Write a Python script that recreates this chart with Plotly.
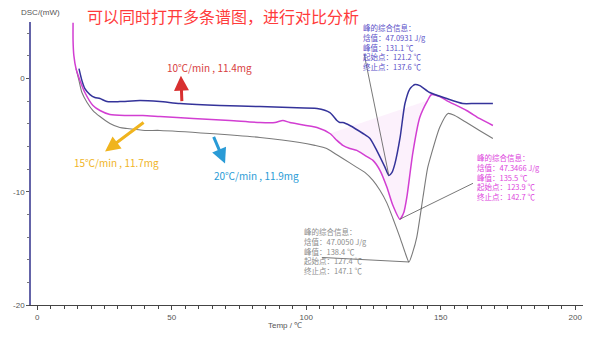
import plotly.graph_objects as go

# ---- data ----
blue_T = [15.5, 16.6, 17.7, 19.6, 21.4, 23.3, 25.9, 30.7, 38.2, 45.6, 53.0, 67.9, 82.8, 93.9, 104.0,
          108.8, 111.4, 112.5, 113.6, 116.2, 121.1, 123.7, 126.2, 129.3, 130.7, 131.9, 133.0, 134.9,
          136.7, 138.6, 140.4, 142.2, 145.9, 152.2, 158.2, 162.6, 169.4]
blue_Y = [0.88, -0.18, -0.88, -1.41, -1.67, -1.76, -2.03, -2.03, -1.94, -2.03, -2.2, -2.38, -2.47, -2.56, -2.64,
          -3.0, -3.7, -3.88, -3.88, -4.14, -4.85, -5.29, -6.34, -7.84, -8.55, -8.28, -7.49, -5.2,
          -2.2, -0.88, -0.53, -0.62, -1.23, -1.76, -2.2, -2.2, -2.2]

mag_T = [13.3, 13.3, 13.6, 14.4, 15.9, 17.7, 20.7, 23.3, 27.0, 32.6, 39.3, 45.6, 57.9, 71.6, 82.8, 88.4,
         91.3, 93.9, 104.0, 108.8, 111.4, 113.6, 116.2, 118.8, 121.8, 124.8, 127.4, 130.0, 132.2, 134.8,
         136.3, 137.4, 139.6, 142.2, 145.1, 146.6, 149.6, 152.2, 159.6, 164.4, 169.4]
mag_Y = [4.93, 3.35, 2.03, 0.88, -0.18, -1.23, -2.38, -2.82, -3.17, -3.26, -3.26, -3.35, -3.52, -3.7, -3.88, -3.88,
         -3.7, -3.88, -4.32, -4.85, -5.46, -5.9, -6.17, -6.34, -6.78, -7.22, -8.1, -9.6, -11.19, -12.42,
         -11.8, -10.48, -6.6, -3.44, -1.94, -1.41, -1.59, -1.94, -2.82, -3.52, -4.14]

gray_T = [14.4, 15.5, 16.6, 18.5, 20.7, 23.3, 27.0, 30.7, 33.4, 40.0, 45.6, 64.2, 82.8, 97.6, 103.2, 107.6,
          110.6, 113.6, 118.8, 121.8, 124.8, 127.4, 130.0, 132.2, 134.8, 136.7, 138.2, 139.6, 141.1, 143.4,
          145.1, 146.6, 149.6, 152.7, 155.2, 159.6, 164.4, 169.4]
gray_Y = [0.88, -0.18, -1.23, -2.11, -2.82, -3.35, -3.96, -4.32, -4.41, -4.58, -4.58, -4.85, -5.2, -5.64, -5.9, -6.17,
          -6.61, -7.05, -7.84, -8.28, -8.99, -9.87, -11.0, -12.33, -14.0, -15.33, -16.2, -15.33, -14.0, -10.48,
          -7.93, -6.61, -4.32, -3.08, -3.26, -3.88, -4.58, -5.29]

series_labels = ["10℃/min , 11.4mg", "15℃/min , 11.7mg", "20℃/min , 11.9mg"]
info_blue = ["峰的综合信息：", "焓值：47.0931 J/g", "峰值：131.1 ℃", "起始点：121.2 ℃", "终止点：137.6 ℃"]
info_mag = ["峰的综合信息：", "焓值：47.3466 J/g", "峰值：135.5 ℃", "起始点：123.9 ℃", "终止点：142.7 ℃"]
info_gray = ["峰的综合信息：", "焓值：47.0050 J/g", "峰值：138.4 ℃", "起始点：127.4 ℃", "终止点：147.1 ℃"]
title_text = "可以同时打开多条谱图，进行对比分析"
x_ticks = [0, 50, 100, 150, 200]
y_ticks = [0, -10, -20]

BLUE = "#34339a"
MAG = "#d23ed2"
GRAY = "#7a7a7a"
CJK = "Noto Sans CJK SC"

fig = go.Figure()

# light pink integration shading under the magenta peak (derived from the magenta curve)
i0 = mag_T.index(108.8)
i1 = mag_T.index(145.1)
seg_T = mag_T[i0:i1 + 1]
seg_Y = mag_Y[i0:i1 + 1]
base_T = [seg_T[-1], seg_T[0]]
base_Y = [seg_Y[-1], seg_Y[0]]
fig.add_trace(go.Scatter(x=seg_T + base_T, y=seg_Y + base_Y, fill="toself",
                         fillcolor="rgba(235,160,235,0.15)", line=dict(width=0),
                         mode="lines", hoverinfo="skip", showlegend=False))

fig.add_trace(go.Scatter(x=gray_T, y=gray_Y, mode="lines",
                         line=dict(color=GRAY, width=1.1, shape="spline", smoothing=0.6), showlegend=False))
fig.add_trace(go.Scatter(x=mag_T, y=mag_Y, mode="lines",
                         line=dict(color=MAG, width=1.5, shape="spline", smoothing=0.6), showlegend=False))
fig.add_trace(go.Scatter(x=blue_T, y=blue_Y, mode="lines",
                         line=dict(color=BLUE, width=1.5, shape="spline", smoothing=0.6), showlegend=False))

# leader lines from peak minima to info boxes
bmin = blue_Y.index(min(blue_Y))
mmin = mag_Y.index(min(mag_Y))
gmin = gray_Y.index(min(gray_Y))
fig.add_trace(go.Scatter(x=[blue_T[bmin], 121.5], y=[blue_Y[bmin], 2.2], mode="lines",
                         line=dict(color="#555555", width=0.8), showlegend=False))
fig.add_trace(go.Scatter(x=[mag_T[mmin], 162.0], y=[mag_Y[mmin], -9.25], mode="lines",
                         line=dict(color="#555555", width=0.8), showlegend=False))
fig.add_trace(go.Scatter(x=[gray_T[gmin], 105.8], y=[gray_Y[gmin], -15.8], mode="lines",
                         line=dict(color="#555555", width=0.8), showlegend=False))

ann = []
ann.append(dict(xref="paper", yref="paper", x=0.347, y=1.021, text=title_text, showarrow=False,
                xanchor="center", yanchor="middle",
                font=dict(family=CJK, size=16, color="#ff3b3b")))
ann.append(dict(xref="paper", yref="paper", x=-0.021, y=1.032, text="DSC/(mW)", showarrow=False,
                xanchor="left", yanchor="middle",
                font=dict(family="Liberation Sans", size=8, color="#555555")))
ann.append(dict(xref="paper", yref="paper", x=0.46, y=-0.074, text="Temp / ℃", showarrow=False,
                xanchor="center", yanchor="middle",
                font=dict(family="Liberation Sans", size=8, color="#555555")))

# series labels + arrows
ann.append(dict(x=63.9, y=0.97, text=series_labels[0], showarrow=False,
                font=dict(family=CJK, size=10, color="#d84040")))
ann.append(dict(x=53.4, y=0.26, ax=1, ay=27, text="", showarrow=True, arrowhead=2, arrowsize=1,
                arrowwidth=3, arrowcolor="#d83030"))
ann.append(dict(x=29.3, y=-7.4, text=series_labels[1], showarrow=False,
                font=dict(family=CJK, size=10, color="#f0b41e")))
ann.append(dict(x=25.2, y=-6.43, ax=40, ay=-30, text="", showarrow=True, arrowhead=2, arrowsize=1,
                arrowwidth=3, arrowcolor="#f0b41e"))
ann.append(dict(x=81.5, y=-8.55, text=series_labels[2], showarrow=False,
                font=dict(family=CJK, size=10, color="#2a9bd6")))
ann.append(dict(x=69.8, y=-7.49, ax=-12, ay=-28, text="", showarrow=True, arrowhead=2, arrowsize=1,
                arrowwidth=3, arrowcolor="#2a9bd6"))

# info boxes
ann.append(dict(x=120.3, y=1.007, yref="paper", text="<br>".join(info_blue), showarrow=False,
                xanchor="left", yanchor="top", align="left",
                font=dict(family=CJK, size=7.5, color="#5a50c8")))
ann.append(dict(x=162.7, y=-6.34, text="<br>".join(info_mag), showarrow=False,
                xanchor="left", yanchor="top", align="left",
                font=dict(family=CJK, size=7.5, color="#dd44dd")))
ann.append(dict(x=98.4, y=-12.86, text="<br>".join(info_gray), showarrow=False,
                xanchor="left", yanchor="top", align="left",
                font=dict(family=CJK, size=7.5, color="#8c8c8c")))

fig.update_layout(
    width=614, height=337,
    margin=dict(l=31, r=31, t=22, b=32),
    plot_bgcolor="white", paper_bgcolor="white",
    annotations=ann,
    showlegend=False,
)
fig.update_xaxes(range=[-2.34, 202.9], tickvals=x_ticks, ticktext=[str(v) for v in x_ticks],
                 showgrid=False, zeroline=False, showline=True, linecolor="#444444", linewidth=1,
                 ticks="outside", ticklen=4, tickcolor="#444444",
                 minor=dict(dtick=5, ticks="outside", ticklen=3, tickcolor="#444444"),
                 tickfont=dict(family="Liberation Sans", size=8, color="#555555"))
fig.update_yaxes(range=[-20, 5], tickvals=y_ticks, ticktext=[str(v) for v in y_ticks],
                 showgrid=False, zeroline=False, showline=True, linecolor="#6464a8", linewidth=1.5,
                 ticks="outside", ticklen=3, tickcolor="#555555",
                 minor=dict(dtick=2, ticks="outside", ticklen=2, tickcolor="#777777"),
                 tickfont=dict(family="Liberation Sans", size=8, color="#555555"))

fig.write_html("out.html")
